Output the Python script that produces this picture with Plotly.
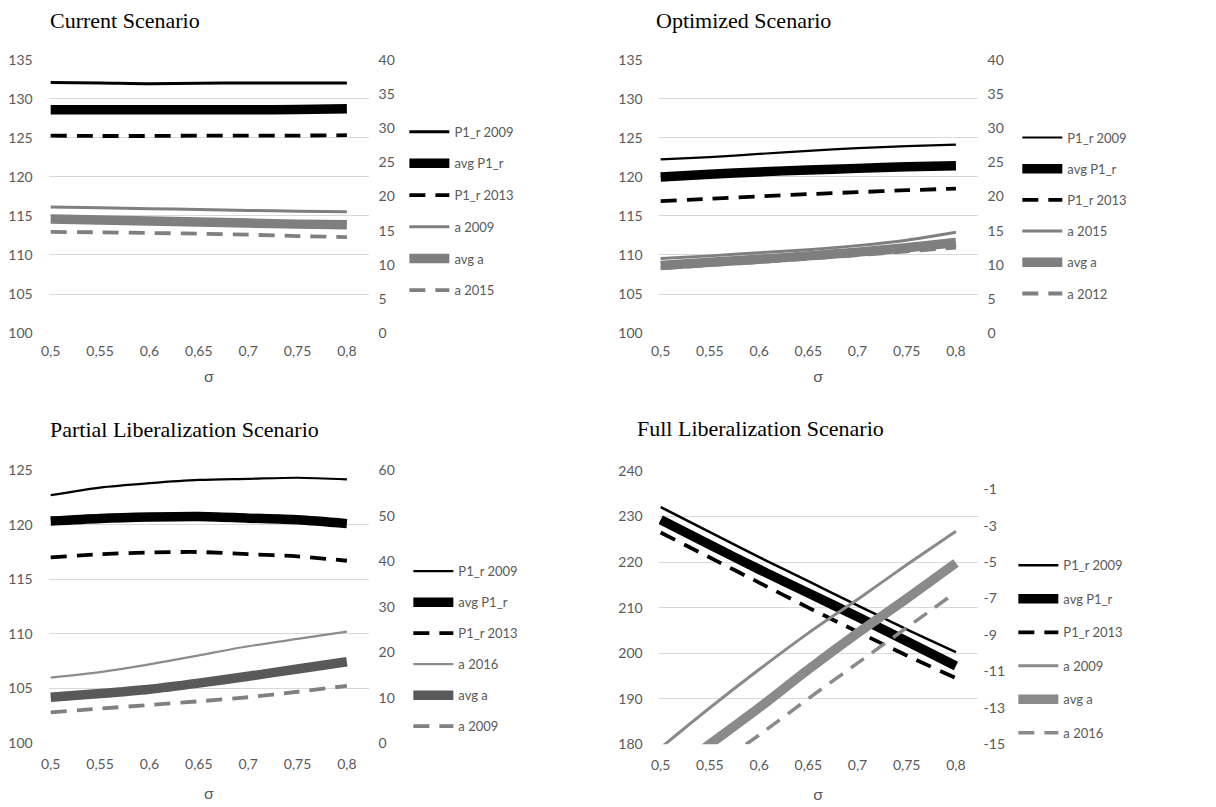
import plotly.graph_objects as go

# ---------------- data ----------------
sigma = [0.5, 0.55, 0.6, 0.65, 0.7, 0.75, 0.8]
x_tick_vals = [0.5, 0.55, 0.6, 0.65, 0.7, 0.75, 0.8]
x_tick_text = ["0,5", "0,55", "0,6", "0,65", "0,7", "0,75", "0,8"]

# Current Scenario
cur_p1r_2009 = [132.1, 132.05, 131.95, 132.0, 132.05, 132.05, 132.05]
cur_avg_p1r = [128.6, 128.6, 128.6, 128.6, 128.6, 128.65, 128.75]
cur_p1r_2013 = [125.3, 125.25, 125.25, 125.3, 125.3, 125.3, 125.35]
cur_a_2009 = [18.45, 18.35, 18.2, 18.1, 17.95, 17.85, 17.75]
cur_avg_a = [16.7, 16.55, 16.4, 16.25, 16.1, 15.95, 15.85]
cur_a_2015 = [14.8, 14.75, 14.65, 14.55, 14.4, 14.2, 14.05]

# Optimized Scenario
opt_p1r_2009 = [122.25, 122.55, 122.95, 123.35, 123.7, 123.95, 124.15]
opt_avg_p1r = [120.0, 120.35, 120.65, 120.9, 121.1, 121.3, 121.45]
opt_p1r_2013 = [116.9, 117.2, 117.5, 117.8, 118.05, 118.3, 118.5]
opt_a_2015 = [10.9, 11.3, 11.75, 12.2, 12.8, 13.6, 14.75]
opt_avg_a = [9.9, 10.35, 10.8, 11.3, 11.85, 12.5, 13.25]
opt_a_2012 = [9.5, 9.95, 10.4, 10.9, 11.4, 11.95, 12.5]

# Partial Liberalization Scenario
par_p1r_2009 = [122.7, 123.4, 123.8, 124.1, 124.2, 124.3, 124.15]
par_avg_p1r = [120.33, 120.57, 120.7, 120.75, 120.6, 120.45, 120.1]
par_p1r_2013 = [117.0, 117.3, 117.45, 117.5, 117.3, 117.1, 116.7]
par_a_2016 = [14.4, 15.6, 17.3, 19.3, 21.3, 22.9, 24.5]
par_avg_a = [10.1, 10.9, 11.85, 13.2, 14.7, 16.3, 17.9]
par_a_2009 = [6.75, 7.6, 8.4, 9.2, 10.1, 11.3, 12.6]

# Full Liberalization Scenario
ful_p1r_2009 = [232.1, 226.6, 221.1, 215.8, 210.5, 205.2, 200.2]
ful_avg_p1r = [229.3, 223.8, 218.4, 213.2, 208.0, 202.6, 197.2]
ful_p1r_2013 = [226.5, 221.0, 215.5, 210.0, 204.7, 199.5, 194.5]
ful_a_2009 = [-15.2, -13.0, -10.9, -8.9, -7.05, -5.15, -3.3]
ful_avg_a = [-17.0, -15.0, -13.0, -10.9, -8.9, -7.0, -5.05]
ful_a_2016 = [-18.3, -16.4, -14.5, -12.5, -10.55, -8.6, -6.65]

titles = ["Current Scenario", "Optimized Scenario",
          "Partial Liberalization Scenario", "Full Liberalization Scenario"]

left_ticks_1 = [100, 105, 110, 115, 120, 125, 130, 135]
right_ticks_1 = [0, 5, 10, 15, 20, 25, 30, 35, 40]
left_ticks_3 = [100, 105, 110, 115, 120, 125]
right_ticks_3 = [0, 10, 20, 30, 40, 50, 60]
left_ticks_4 = [180, 190, 200, 210, 220, 230, 240]
right_ticks_4 = [-15, -13, -11, -9, -7, -5, -3, -1]

# ---------------- layout helpers ----------------
W, H = 1216, 807
def px(v):
    return v / W
def py(v):
    return 1 - v / H

BLACK = "#000000"
GRAY = "#7f7f7f"
DGRAY = "#595959"
LGRAY = "#8a8a8a"
DASH = "16px,10px"
TICKFONT = dict(family="Lato, Calibri, sans-serif", size=14, color="#595959")
THICK = 9.5

fig = go.Figure()

panels = [
    ("x", "y", "y2", "legend", [
        ("P1_r 2009", cur_p1r_2009, "L", BLACK, 3, "solid"),
        ("avg P1_r", cur_avg_p1r, "L", BLACK, THICK, "solid"),
        ("P1_r 2013", cur_p1r_2013, "L", BLACK, 3.8, DASH),
        ("a 2009", cur_a_2009, "R", GRAY, 3, "solid"),
        ("avg a", cur_avg_a, "R", GRAY, THICK, "solid"),
        ("a 2015", cur_a_2015, "R", GRAY, 3.8, DASH),
    ]),
    ("x2", "y3", "y4", "legend2", [
        ("P1_r 2009", opt_p1r_2009, "L", BLACK, 2.2, "solid"),
        ("avg P1_r", opt_avg_p1r, "L", BLACK, THICK, "solid"),
        ("P1_r 2013", opt_p1r_2013, "L", BLACK, 3.8, DASH),
        ("a 2015", opt_a_2015, "R", GRAY, 3, "solid"),
        ("avg a", opt_avg_a, "R", GRAY, THICK, "solid"),
        ("a 2012", opt_a_2012, "R", GRAY, 3.8, DASH),
    ]),
    ("x3", "y5", "y6", "legend3", [
        ("P1_r 2009", par_p1r_2009, "L", BLACK, 2.2, "solid"),
        ("avg P1_r", par_avg_p1r, "L", BLACK, THICK, "solid"),
        ("P1_r 2013", par_p1r_2013, "L", BLACK, 3.8, DASH),
        ("a 2016", par_a_2016, "R", "#8c8c8c", 2.2, "solid"),
        ("avg a", par_avg_a, "R", DGRAY, THICK, "solid"),
        ("a 2009", par_a_2009, "R", "#808080", 3.8, DASH),
    ]),
    ("x4", "y7", "y8", "legend4", [
        ("P1_r 2009", ful_p1r_2009, "L", BLACK, 2.5, "solid"),
        ("avg P1_r", ful_avg_p1r, "L", BLACK, THICK, "solid"),
        ("P1_r 2013", ful_p1r_2013, "L", BLACK, 3.8, DASH),
        ("a 2009", ful_a_2009, "R", LGRAY, 3, "solid"),
        ("avg a", ful_avg_a, "R", LGRAY, THICK, "solid"),
        ("a 2016", ful_a_2016, "R", LGRAY, 3.5, DASH),
    ]),
]

for pi, (xa, yl, yr, lg, series) in enumerate(panels):
    for si, (name, vals, side, col, w, dash) in enumerate(series):
        fig.add_trace(go.Scatter(
            x=sigma, y=vals, name=name, mode="lines",
            xaxis=xa, yaxis=(yl if side == "L" else yr),
            line=dict(color=col, width=w, dash=dash, shape="spline", smoothing=0.8),
            legend=lg, legendgroup=f"p{pi}s{si}", hoverinfo="skip",
        ))

# domains (pixel based)
left_dom = [px(41), px(363)]
right_dom = [px(655), px(976)]
top_dom = [py(331), py(52)]
bot_dom_l = [py(750), py(471)]
bot_dom_r = [py(751), py(472)]
XRANGE = [0.498, 0.822]

def xaxis(dom, anchor, lab_off=8, title_off=12):
    return dict(domain=dom, anchor=anchor, range=XRANGE, tickvals=x_tick_vals,
                ticktext=x_tick_text, showgrid=False, zeroline=False,
                showline=False, ticks="", tickfont=TICKFONT,
                ticklabelstandoff=lab_off,
                title=dict(text="σ", font=dict(family="Lato, sans-serif", size=16,
                                                color="#595959"), standoff=title_off))

def yleft(dom, anchor, rng, ticks):
    return dict(domain=dom, anchor=anchor, range=rng, tickvals=ticks,
                ticktext=[str(t) for t in ticks],
                showgrid=True, gridcolor="#d9d9d9", gridwidth=1,
                zeroline=False, showline=False, ticks="", tickfont=TICKFONT,
                ticklabelstandoff=15)

def yright(over, anchor, rng, ticks, standoff=9):
    return dict(overlaying=over, anchor=anchor, side="right", range=rng,
                tickvals=ticks, ticktext=[str(t) for t in ticks],
                showgrid=False, zeroline=False, showline=False, ticks="",
                tickfont=TICKFONT, ticklabelstandoff=standoff)

def legend(xp, yp, gap):
    return dict(x=px(xp), y=py(yp), xanchor="left", yanchor="top",
                font=dict(family="Lato, Calibri, sans-serif", size=13,
                          color="#595959"),
                bgcolor="rgba(0,0,0,0)", traceorder="grouped",
                itemwidth=40,
                tracegroupgap=gap, itemclick=False, itemdoubleclick=False)

fig.update_layout(
    width=W, height=H,
    margin=dict(l=0, r=0, t=0, b=0),
    paper_bgcolor="white", plot_bgcolor="white",
    showlegend=True,
    xaxis=xaxis(left_dom, "y"),
    xaxis2=xaxis(right_dom, "y3"),
    xaxis3=xaxis(left_dom, "y5", 11, 16),
    xaxis4=xaxis(right_dom, "y7", 11, 16),
    yaxis=yleft(top_dom, "x", [100, 135], left_ticks_1),
    yaxis2=yright("y", "x", [0, 40], right_ticks_1),
    yaxis3=yleft(top_dom, "x2", [100, 135], left_ticks_1),
    yaxis4=yright("y3", "x2", [0, 40], right_ticks_1),
    yaxis5=yleft(bot_dom_l, "x3", [100, 125], left_ticks_3),
    yaxis6=yright("y5", "x3", [0, 60], right_ticks_3),
    yaxis7=yleft(bot_dom_r, "x4", [180, 240], left_ticks_4),
    yaxis8=yright("y7", "x4", [-15, 0], right_ticks_4, standoff=5),
    legend=legend(399, 110, 11.8),
    legend2=legend(1016, 116, 11.3),
    legend3=legend(403, 559, 11.1),
    legend4=legend(1012, 553, 13.6),
)

title_pos = [(40, 12), (650, 12), (40, 430), (631, 429)]
for t, (tx, ty) in zip(titles, title_pos):
    fig.add_annotation(text=t, x=px(tx), y=py(ty), xref="paper", yref="paper",
                       xanchor="left", yanchor="middle", showarrow=False,
                       font=dict(family="Liberation Serif, Times New Roman, serif",
                                 size=22, color="black"))

fig.write_html("out.html")
